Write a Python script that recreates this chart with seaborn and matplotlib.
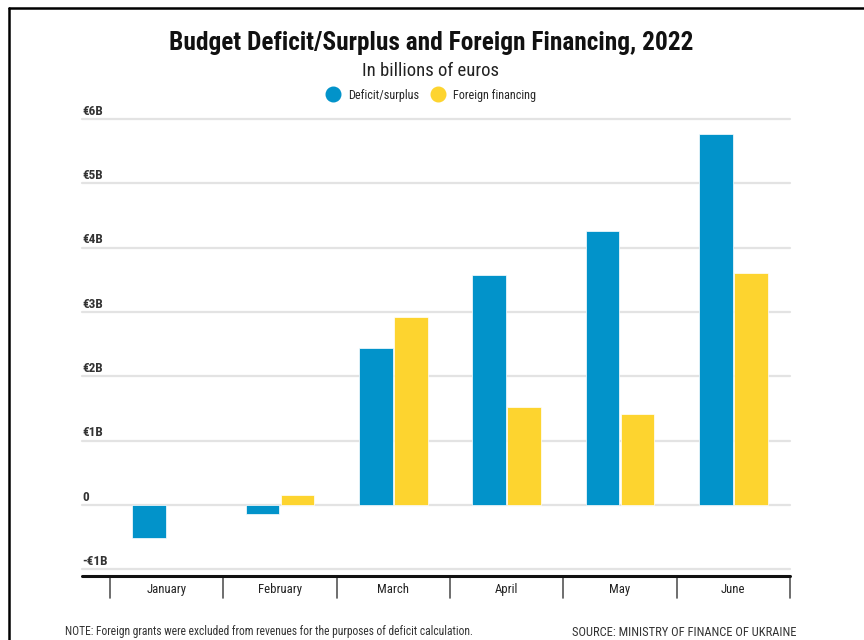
import numpy as np
import pandas as pd
import matplotlib
matplotlib.use("Agg")
import matplotlib.pyplot as plt
import matplotlib.transforms as mtransforms
from matplotlib.lines import Line2D
from matplotlib import font_manager as fm
import seaborn as sns

# ---- data ----
months = ["January", "February", "March", "April", "May", "June"]
deficit_surplus = [-0.52, -0.14, 2.44, 3.57, 4.26, 5.77]
foreign_financing = [np.nan, 0.16, 2.92, 1.52, 1.41, 3.60]
series_names = ["Deficit/surplus", "Foreign financing"]
ytick_values = [6, 5, 4, 3, 2, 1, 0, -1]
ytick_labels = ["€6B", "€5B", "€4B", "€3B", "€2B", "€1B", "0", "-€1B"]
title = "Budget Deficit/Surplus and Foreign Financing, 2022"
subtitle = "In billions of euros"
note = "NOTE: Foreign grants were excluded from revenues for the purposes of deficit calculation."
source = "SOURCE: MINISTRY OF FINANCE OF UKRAINE"

BLUE = "#0293CA"
YELLOW = "#FDD42F"

df = pd.DataFrame({
    "month": months * 2,
    "value": deficit_surplus + foreign_financing,
    "series": [series_names[0]] * len(months) + [series_names[1]] * len(months),
})

sns.set_theme(style="white")

# pick a condensed font if available
names = {f.name for f in fm.fontManager.ttflist}
family = "DejaVu Sans"
stretch = "normal"
for cand in ["Roboto Condensed", "Open Sans Condensed", "Liberation Sans Narrow", "DejaVu Sans Condensed"]:
    if cand in names:
        family = cand
        break
else:
    cond = [f for f in fm.fontManager.ttflist if str(f.stretch) in ("condensed", "semi-condensed", "500", "600")]
    if cond:
        family = cond[0].name
        stretch = "condensed"
plt.rcParams["font.family"] = [family, "DejaVu Sans"]
plt.rcParams["font.stretch"] = stretch

fig = plt.figure(figsize=(8.64, 6.4), dpi=100)
AX_L, AX_R = 82, 790
ax = fig.add_axes([AX_L / 864, 1 - 575.7 / 640, (AX_R - AX_L) / 864, (575.7 - 119) / 640])

sns.barplot(data=df, x="month", y="value", hue="series", order=months,
            hue_order=series_names, palette=[BLUE, YELLOW], saturation=1,
            width=0.62, gap=0.04, edgecolor="white", linewidth=0.5, ax=ax,
            legend=False, errorbar=None)

cat_w = (AX_R - 110) / 6.0
left_extra = (110 - AX_L) / cat_w
ax.set_xlim(-0.5 - left_extra, 5.5)
ax.set_ylim(-1.10, 6.0)

for s in ax.spines.values():
    s.set_visible(False)
ax.set_yticks([])
ax.set_xlabel("")
ax.set_ylabel("")

# gridlines
for v in ytick_values:
    ax.axhline(v, color="#e3e3e3", lw=1.6, zorder=0, clip_on=False)

# y labels above gridlines
for v, lab in zip(ytick_values, ytick_labels):
    ax.annotate(lab, xy=(0, v), xycoords=("axes fraction", "data"),
                xytext=(0, 1), textcoords="offset points", ha="left", va="bottom",
                fontsize=9.5, fontweight="bold", color="#333333")

# bottom black axis line
ax.plot([0, 1], [0, 0], transform=ax.transAxes, color="#111111", lw=2.2, clip_on=False, zorder=5)

# category separators
trans = mtransforms.blended_transform_factory(ax.transData, ax.transAxes)
sep_depth = (598 - 575.7) / (575.7 - 119)
for xv in np.arange(-0.5, 6.0, 1.0):
    ax.plot([xv, xv], [0, -sep_depth], transform=trans, color="#555555", lw=1.2, clip_on=False)

ax.set_xticks(range(len(months)))
ax.set_xticklabels(months, fontsize=9.2, color="#222222")
ax.tick_params(axis="x", length=0, pad=5)

# titles
fig.text(0.4994, 1 - 43 / 640, title, ha="center", va="center", fontsize=18.3,
         fontweight="bold", color="#111111")
fig.text(0.4983, 1 - 71 / 640, subtitle, ha="center", va="center", fontsize=13.5, color="#222222")

handles = [Line2D([0], [0], marker="o", ls="", markersize=10.5, markerfacecolor=c, markeredgecolor=c)
           for c in (BLUE, YELLOW)]
fig.legend(handles, series_names, loc="center", bbox_to_anchor=(431.5 / 864, 1 - 95 / 640), ncol=2,
           frameon=False, fontsize=8.7, handletextpad=0.7, columnspacing=1.1, handlelength=1.0)

fig.text(65 / 864, 1 - 632 / 640, note, ha="left", va="center", fontsize=8.3, color="#333333")
fig.text(797 / 864, 1 - 632 / 640, source, ha="right", va="center", fontsize=9, color="#333333")

# frame lines (left and top)
fig.add_artist(Line2D([9 / 864, 9 / 864], [0, 1 - 8 / 640], transform=fig.transFigure, color="black", lw=1.8))
fig.add_artist(Line2D([9 / 864, 1], [1 - 8 / 640, 1 - 8 / 640], transform=fig.transFigure, color="black", lw=1.8))

fig.savefig("out.png", dpi=100, facecolor="white")
